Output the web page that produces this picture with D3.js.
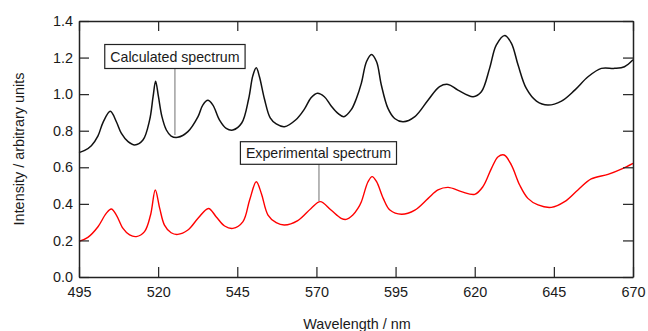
<!DOCTYPE html>
<html>
<head>
<meta charset="utf-8">
<script src="https://cdn.jsdelivr.net/npm/d3@7"></script>
<style>
  body { margin: 0; background: #fff; }
  text { font-family: "Liberation Sans", Arial, sans-serif; fill: #1a1a1a; }
</style>
</head>
<body>
<div id="chart"></div>
<script>
// values
const xTicks = [495, 520, 545, 570, 595, 620, 645, 670];
const yTicks = [0, 0.2, 0.4, 0.6, 0.8, 1.0, 1.2, 1.4];

const calcWave = [495, 496.8, 498.9, 501.0, 502.6, 504.9, 506.8, 508.4, 510.5, 512.6, 515.2, 517.3, 518.4, 519.2, 520.1, 521.2, 522.6, 524.1, 526.2, 529.4, 532.6, 534.1, 535.7, 537.3, 539.4, 541.5, 543.6, 546.4, 548.6, 549.9, 551.0, 552.0, 553.6, 555.4, 557.3, 559.9, 563.5, 566.2, 568.3, 570.3, 572.5, 574.6, 576.8, 578.7, 581.0, 582.6, 584.2, 585.8, 587.4, 589.0, 590.5, 592.6, 594.7, 597.4, 601.1, 605.3, 608.9, 611.6, 614.7, 619.5, 622.1, 624.7, 626.8, 629.5, 631.6, 633.7, 636.3, 639.5, 643.1, 647.4, 651.6, 655.8, 660.0, 664.2, 667.3, 670];
const calcInt  = [0.68, 0.692, 0.718, 0.772, 0.846, 0.906, 0.849, 0.785, 0.740, 0.722, 0.749, 0.858, 0.986, 1.071, 0.986, 0.877, 0.804, 0.771, 0.764, 0.795, 0.877, 0.940, 0.966, 0.940, 0.858, 0.813, 0.804, 0.842, 0.975, 1.100, 1.144, 1.095, 0.972, 0.870, 0.837, 0.822, 0.860, 0.918, 0.980, 1.005, 0.986, 0.937, 0.895, 0.877, 0.915, 0.975, 1.060, 1.177, 1.217, 1.177, 1.050, 0.922, 0.867, 0.849, 0.877, 0.968, 1.041, 1.053, 1.022, 0.986, 1.013, 1.141, 1.268, 1.321, 1.278, 1.159, 1.031, 0.962, 0.940, 0.962, 1.022, 1.095, 1.141, 1.141, 1.150, 1.188];

const expWave = [495, 497.8, 501.0, 503.6, 505.2, 506.8, 508.9, 511.0, 513.1, 515.7, 517.6, 519.1, 520.5, 522.0, 524.1, 526.2, 529.4, 532.6, 535.9, 538.3, 541.0, 543.6, 546.8, 548.9, 551.0, 552.6, 554.7, 557.3, 559.9, 564.1, 568.3, 571.2, 574.6, 577.8, 579.4, 581.5, 583.1, 584.2, 586.3, 587.6, 589.0, 591.1, 593.2, 596.9, 601.1, 605.3, 608.4, 611.6, 615.8, 620.0, 622.6, 625.3, 627.4, 629.3, 631.6, 634.2, 636.8, 640.0, 644.2, 648.4, 652.6, 656.8, 662.1, 666.3, 670];
const expInt  = [0.195, 0.217, 0.275, 0.348, 0.372, 0.339, 0.266, 0.230, 0.221, 0.248, 0.339, 0.476, 0.375, 0.284, 0.242, 0.233, 0.257, 0.321, 0.375, 0.330, 0.279, 0.266, 0.303, 0.421, 0.521, 0.457, 0.339, 0.297, 0.284, 0.308, 0.375, 0.412, 0.366, 0.321, 0.315, 0.339, 0.375, 0.412, 0.521, 0.549, 0.521, 0.430, 0.366, 0.343, 0.366, 0.430, 0.476, 0.490, 0.467, 0.452, 0.494, 0.594, 0.658, 0.667, 0.612, 0.503, 0.430, 0.394, 0.381, 0.412, 0.476, 0.536, 0.561, 0.590, 0.622];

const labelNames = ["Calculated spectrum", "Experimental spectrum"];
const labelWave = [525.3, 570.8];
const labelInt = [0.776, 0.415];

const W = 648, H = 331;
const margin = {top: 21, right: 15, bottom: 54, left: 79};
const iw = W - margin.left - margin.right;
const ih = H - margin.top - margin.bottom;

const svg = d3.select('#chart').append('svg')
    .attr('width', W)
    .attr('height', H);

const g = svg.append('g').attr('transform', `translate(${margin.left},${margin.top})`);

const x = d3.scaleLinear().domain([495, 670]).range([0, iw]);
const y = d3.scaleLinear().domain([0, 1.4]).range([ih, 0]);

const line = d3.line()
    .x(d => x(d[0]))
    .y(d => y(d[1]))
    .curve(d3.curveCatmullRom.alpha(0.5));

g.append('path')
    .datum(d3.zip(calcWave, calcInt))
    .attr('d', line)
    .attr('fill', 'none')
    .attr('stroke', '#111')
    .attr('stroke-width', 1.5);

g.append('path')
    .datum(d3.zip(expWave, expInt))
    .attr('d', line)
    .attr('fill', 'none')
    .attr('stroke', '#ff0000')
    .attr('stroke-width', 1.4);

// axes, ticks pointing inward on all four sides
const styleAxis = sel => {
    sel.select('.domain').attr('stroke', '#222').attr('stroke-width', 1.5);
    sel.selectAll('.tick line').attr('stroke', '#222').attr('stroke-width', 1.2);
    sel.selectAll('.tick text').style('font-size', '14.4px').attr('fill', '#1a1a1a');
};

g.append('g')
    .attr('transform', `translate(0,${ih})`)
    .call(d3.axisBottom(x).tickValues(xTicks).tickSize(-10).tickSizeOuter(0).tickPadding(9.5).tickFormat(d3.format('d')))
    .call(styleAxis);

g.append('g')
    .call(d3.axisTop(x).tickValues(xTicks).tickSize(-10).tickSizeOuter(0).tickFormat(''))
    .call(styleAxis);

g.append('g')
    .call(d3.axisLeft(y).tickValues(yTicks).tickSize(-10).tickSizeOuter(0).tickPadding(6).tickFormat(d3.format('.1f')))
    .call(styleAxis);

g.append('g')
    .attr('transform', `translate(${iw},0)`)
    .call(d3.axisRight(y).tickValues(yTicks).tickSize(-10).tickSizeOuter(0).tickFormat(''))
    .call(styleAxis);

// axis titles
svg.append('text')
    .attr('x', margin.left + iw / 2 + 1)
    .attr('y', 328.5)
    .attr('text-anchor', 'middle')
    .style('font-size', '14.4px')
    .text('Wavelength / nm');

svg.append('text')
    .attr('transform', `translate(24,${margin.top + ih / 2}) rotate(-90)`)
    .attr('text-anchor', 'middle')
    .style('font-size', '14.4px')
    .text('Intensity / arbitrary units');

// labelled leader lines
const boxes = [
    {top: 44.5, h: 24, dx: 0},
    {top: 141.7, h: 22.6, dx: -0.5}
];

labelNames.forEach((name, i) => {
    const px = x(labelWave[i]);
    const b = boxes[i];
    g.append('line')
        .attr('x1', px).attr('x2', px)
        .attr('y1', b.top - margin.top + b.h)
        .attr('y2', y(labelInt[i]))
        .attr('stroke', '#888')
        .attr('stroke-width', 1.2);
    const rect = g.append('rect');
    const t = g.append('text')
        .attr('x', px + b.dx)
        .attr('y', b.top - margin.top + b.h / 2)
        .attr('dy', '0.36em')
        .attr('text-anchor', 'middle')
        .style('font-size', '14.2px')
        .text(name);
    const bb = t.node().getBBox();
    rect.attr('x', bb.x - 5.5)
        .attr('y', b.top - margin.top)
        .attr('width', bb.width + 11)
        .attr('height', b.h)
        .attr('fill', '#fff')
        .attr('stroke', '#222')
        .attr('stroke-width', 1.2);
});
</script>
</body>
</html>
